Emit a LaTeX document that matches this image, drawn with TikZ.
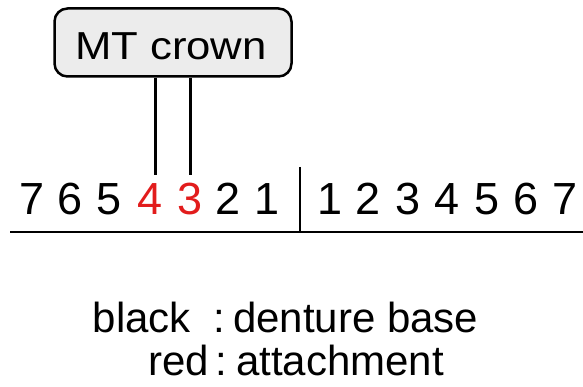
\documentclass[tikz,border=0pt]{standalone}
\usepackage{fontspec}
\setmainfont{Liberation Sans}
\definecolor{attred}{RGB}{226,28,28}
\definecolor{boxgray}{RGB}{236,236,236}
\tikzset{
  digit/.style={anchor=base, inner sep=0pt, font=\fontsize{45}{50}\selectfont},
  legend/.style={inner sep=0pt, font=\fontsize{42}{48}\selectfont},
  crownbox/.style={draw, line width=2.5pt, fill=boxgray, rounded corners=13pt, minimum width=237pt, minimum height=68pt, inner sep=0pt},
  stem/.style={line width=3pt},
  rule/.style={line width=2.3pt}
}
\begin{document}
\begin{tikzpicture}[x=1pt,y=-1pt]
\useasboundingbox (0,0) rectangle (583,387);
% box
\node[crownbox] (box) at (173,42.5) {};
\node[anchor=base, inner sep=0pt, font=\fontsize{39}{44}\selectfont] (lbl) at (171,60) {\scalebox{1.12}[1]{MT crown}};
% digits left
\node[digit] (l7) at (32,215) {7};
\node[digit] (l6) at (70,215) {6};
\node[digit] (l5) at (109,215) {5};
\node[digit, text=attred] (l4) at (150,215) {4};
\node[digit, text=attred] (l3) at (190,215) {3};
\node[digit] (l2) at (228,215) {2};
\node[digit] (l1) at (267,215) {1};
% digits right
\node[digit] (r1) at (330,215) {1};
\node[digit] (r2) at (368,215) {2};
\node[digit] (r3) at (408,215) {3};
\node[digit] (r4) at (447,215) {4};
\node[digit] (r5) at (487,215) {5};
\node[digit] (r6) at (526,215) {6};
\node[digit] (r7) at (565,215) {7};
% stems
\coordinate (s4) at (155,175);
\coordinate (s3) at (190,175);
\draw[stem] (box.south -| s4) -- (s4);
\draw[stem] (box.south -| s3) -- (s3);
% axes
\coordinate (hl) at (10,232);
\coordinate (hr) at (583,232);
\coordinate (vt) at (300,167);
\draw[rule] (hl) -- (hr);
\draw[rule] (vt) -- (vt |- hl);
% legend
\node[legend, anchor=base east] (k1) at (191,332) {black};
\node[legend, anchor=base] (c1) at (219,332) {:};
\node[legend, anchor=base west] (v1) at (233,332) {denture base};
\node[legend, anchor=base east] (k2) at (209,375) {red};
\node[legend, anchor=base] (c2) at (221,375) {:};
\node[legend, anchor=base west] (v2) at (236,375) {attachment};
\end{tikzpicture}
\end{document}
